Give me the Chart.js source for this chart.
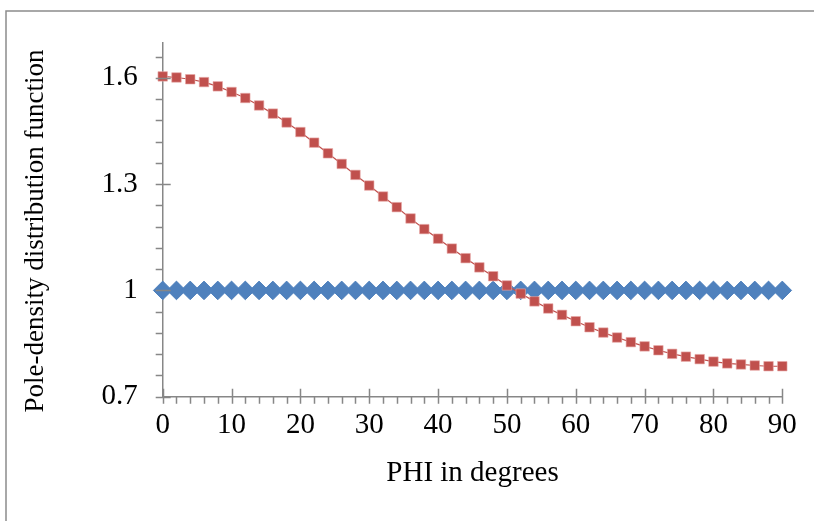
<!DOCTYPE html>
<html>
<head>
<meta charset="utf-8">
<script src="https://cdn.jsdelivr.net/npm/chart.js@4/dist/chart.umd.min.js"></script>
<style>
  html, body { margin: 0; padding: 0; background: #fff; }
  #wrap { width: 814px; height: 521px; position: relative; }
</style>
</head>
<body>
<div id="wrap"><canvas id="chart" width="814" height="521"></canvas></div>
<script>
// --- DATA ---
const phiDegrees = [0, 2, 4, 6, 8, 10, 12, 14, 16, 18, 20, 22, 24, 26, 28, 30, 32, 34, 36, 38, 40, 42, 44,
  46, 48, 50, 52, 54, 56, 58, 60, 62, 64, 66, 68, 70, 72, 74, 76, 78, 80, 82, 84, 86, 88, 90];
const randomSeries = [1, 1, 1, 1, 1, 1, 1, 1, 1, 1, 1, 1, 1, 1, 1, 1, 1, 1, 1, 1, 1, 1, 1,
  1, 1, 1, 1, 1, 1, 1, 1, 1, 1, 1, 1, 1, 1, 1, 1, 1, 1, 1, 1, 1, 1, 1];
const texturedSeries = [1.604, 1.601, 1.596, 1.588, 1.576, 1.560, 1.543, 1.522, 1.499, 1.474, 1.447,
  1.417, 1.387, 1.357, 1.326, 1.296, 1.265, 1.235, 1.203, 1.173, 1.146, 1.118, 1.091,
  1.065, 1.040, 1.014, 0.991, 0.969, 0.949, 0.931, 0.913, 0.896, 0.881, 0.867, 0.854,
  0.842, 0.831, 0.821, 0.813, 0.806, 0.799, 0.794, 0.791, 0.788, 0.786, 0.786];
const yTickLabels = [0.7, 1, 1.3, 1.6];
const xTickLabels = [0, 10, 20, 30, 40, 50, 60, 70, 80, 90];
const xTitle = 'PHI in degrees';
const yTitle = 'Pole-density distribution function';

// --- STYLE ---
const axisGray = '#878787';
const fontFamily = '"Liberation Serif", "Times New Roman", serif';
const fontSize = 29;

// frame, y title and tick marks, drawn through the chart's scales
const decorPlugin = {
  id: 'decor',
  beforeDraw(chart) {
    const ctx = chart.ctx;
    ctx.save();
    ctx.fillStyle = '#fff';
    ctx.fillRect(0, 0, chart.width, chart.height);
    ctx.strokeStyle = '#8c8c8c';
    ctx.lineWidth = 1.5;
    ctx.strokeRect(6, 11, chart.width + 20, chart.height + 20);
    // y axis title
    ctx.translate(36, 231);
    ctx.rotate(-Math.PI / 2);
    ctx.fillStyle = '#000';
    ctx.font = '27px ' + fontFamily;
    ctx.textAlign = 'center';
    ctx.textBaseline = 'middle';
    ctx.fillText(yTitle, 0, 0);
    ctx.restore();
  },
  afterDraw(chart) {
    const ctx = chart.ctx;
    const xs = chart.scales.x, ys = chart.scales.y;
    const axisY = ys.getPixelForValue(0.7);
    const axisX = xs.getPixelForValue(0);
    ctx.save();
    ctx.strokeStyle = axisGray;
    ctx.lineWidth = 1.5;
    ctx.beginPath();
    // x minor ticks every 2, majors every 10
    for (let v = 0; v <= 90; v += 2) {
      const px = Math.round(xs.getPixelForValue(v)) + 0.5;
      const major = v % 10 === 0;
      ctx.moveTo(px, axisY + 7);
      ctx.lineTo(px, major ? axisY - 8 : axisY);
    }
    // y minor ticks every 0.06, majors every 0.3
    for (let k = 0; k <= 16; k++) {
      const v = 0.7 + k * 0.06;
      const py = Math.round(ys.getPixelForValue(v)) + 0.5;
      const major = k % 5 === 0;
      ctx.moveTo(axisX - 7, py);
      ctx.lineTo(major ? axisX + 8 : axisX, py);
    }
    ctx.stroke();
    ctx.restore();
  }
};

new Chart(document.getElementById('chart'), {
  type: 'line',
  data: {
    labels: phiDegrees,
    datasets: [
      {
        label: 'Random',
        data: phiDegrees.map((x, i) => ({ x, y: randomSeries[i] })),
        borderColor: '#4F81BD',
        backgroundColor: '#4F81BD',
        borderWidth: 1,
        showLine: false,
        pointStyle: 'rectRot',
        pointRadius: 9.3,
        pointBorderWidth: 1,
        clip: false,
        order: 2
      },
      {
        label: 'Textured',
        data: phiDegrees.map((x, i) => ({ x, y: texturedSeries[i] })),
        borderColor: '#C0504D',
        backgroundColor: '#C0504D',
        borderWidth: 1.2,
        pointStyle: 'rect',
        pointRadius: 6.7,
        pointBorderWidth: 0.6,
        pointBorderColor: '#E8A8A6',
        tension: 0,
        clip: false,
        order: 1
      }
    ]
  },
  options: {
    responsive: false,
    animation: false,
    events: [],
    layout: { padding: { left: 0, right: 31.7, top: 36.7, bottom: 0 } },
    plugins: { legend: { display: false }, tooltip: { enabled: false } },
    scales: {
      x: {
        type: 'linear',
        min: 0,
        max: 90,
        afterBuildTicks: s => { s.ticks = xTickLabels.map(v => ({ value: v })); },
        afterFit: s => { s.height = 521 - 396.7; },
        grid: { display: false, drawTicks: false },
        border: { display: true, color: axisGray, width: 1.5 },
        ticks: { color: '#000', padding: 11, maxRotation: 0, font: { family: fontFamily, size: fontSize } },
        title: { display: true, text: xTitle, color: '#000', padding: { top: 0, bottom: 30 },
          font: { family: fontFamily, size: fontSize } }
      },
      y: {
        min: 0.7,
        max: 1.7,
        afterBuildTicks: s => { s.ticks = yTickLabels.map(v => ({ value: v })); },
        afterFit: s => { s.width = 162.7; },
        grid: { display: false, drawTicks: false },
        border: { display: true, color: axisGray, width: 1.5 },
        ticks: { color: '#000', padding: 25, callback: v => String(+v.toFixed(2)),
          font: { family: fontFamily, size: fontSize } },
        title: { display: false }
      }
    }
  },
  plugins: [decorPlugin]
});
</script>
</body>
</html>
